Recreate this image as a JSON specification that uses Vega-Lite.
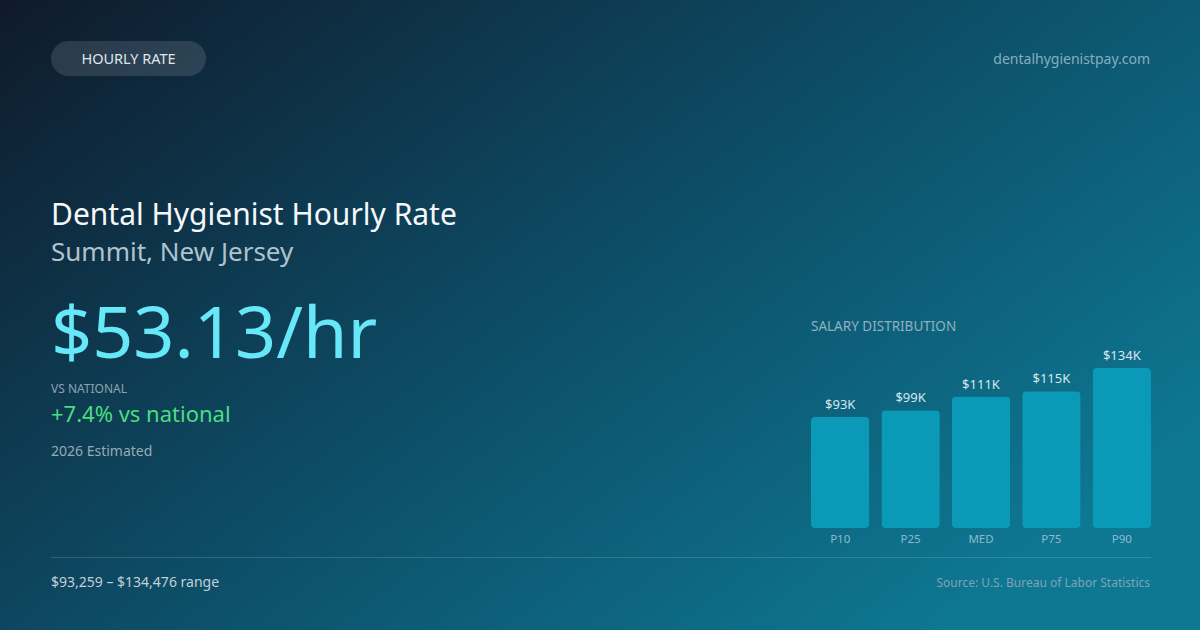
{
  "$schema": "https://vega.github.io/schema/vega-lite/v6.json",
  "width": 1200,
  "height": 630,
  "autosize": {"type": "fit", "contains": "padding"},
  "padding": 0,
  "background": "#0f1a2b",
  "config": {"view": {"stroke": null}, "font": "Noto Sans"},
  "datasets": {
    "dist": [
      {"pct": "P10", "wage": 93259, "label": "$93K"},
      {"pct": "P25", "wage": 99000, "label": "$99K"},
      {"pct": "MED", "wage": 110510, "label": "$111K"},
      {"pct": "P75", "wage": 115000, "label": "$115K"},
      {"pct": "P90", "wage": 134476, "label": "$134K"}
    ]
  },
  "layer": [
    {
      "data": {"values": [{}]},
      "mark": {
        "type": "rect",
        "fill": {
          "gradient": "linear", "x1": 0, "y1": 0, "x2": 1, "y2": 0.7,
          "stops": [
            {"offset": 0, "color": "#0f1a2b"},
            {"offset": 0.5, "color": "#0d4a63"},
            {"offset": 1, "color": "#0e7893"}
          ]
        }
      },
      "encoding": {
        "x": {"value": -2}, "x2": {"value": 1202},
        "y": {"value": -2}, "y2": {"value": 632}
      }
    },
    {
      "data": {"values": [{"text": "HOURLY RATE"}]},
      "layer": [
        {
          "mark": {"type": "rect", "cornerRadius": 17.5, "fill": "#ffffff", "fillOpacity": 0.12},
          "encoding": {"x": {"value": 49}, "x2": {"value": 204}, "y": {"value": 39}, "y2": {"value": 74}}
        },
        {
          "mark": {"type": "text", "align": "center", "baseline": "alphabetic", "fontSize": 14.5, "color": "#dde6ec"},
          "encoding": {"x": {"value": 126.5}, "y": {"value": 62}, "text": {"field": "text"}}
        }
      ]
    },
    {
      "data": {"values": [{"text": "dentalhygienistpay.com"}]},
      "mark": {"type": "text", "align": "right", "baseline": "alphabetic", "fontSize": 14, "color": "#86aec0"},
      "encoding": {"x": {"value": 1148}, "y": {"value": 62}, "text": {"field": "text"}}
    },
    {
      "data": {"values": [{"text": "Dental Hygienist Hourly Rate"}]},
      "mark": {"type": "text", "align": "left", "baseline": "alphabetic", "fontSize": 30, "color": "#f4f8fb"},
      "encoding": {"x": {"value": 49}, "y": {"value": 223}, "text": {"field": "text"}}
    },
    {
      "data": {"values": [{"text": "Summit, New Jersey"}]},
      "mark": {"type": "text", "align": "left", "baseline": "alphabetic", "fontSize": 26, "color": "#aec3cf"},
      "encoding": {"x": {"value": 49}, "y": {"value": 259}, "text": {"field": "text"}}
    },
    {
      "data": {"values": [{"text": "$53.13/hr"}]},
      "mark": {"type": "text", "align": "left", "baseline": "alphabetic", "fontSize": 72, "color": "#67e8f9"},
      "encoding": {"x": {"value": 49}, "y": {"value": 356}, "text": {"field": "text"}}
    },
    {
      "data": {"values": [{"text": "VS NATIONAL"}]},
      "mark": {"type": "text", "align": "left", "baseline": "alphabetic", "fontSize": 12, "color": "#8ea3b0"},
      "encoding": {"x": {"value": 49}, "y": {"value": 391}, "text": {"field": "text"}}
    },
    {
      "data": {"values": [{"text": "+7.4% vs national"}]},
      "mark": {"type": "text", "align": "left", "baseline": "alphabetic", "fontSize": 22, "color": "#4ade80"},
      "encoding": {"x": {"value": 49}, "y": {"value": 420}, "text": {"field": "text"}}
    },
    {
      "data": {"values": [{"text": "2026 Estimated"}]},
      "mark": {"type": "text", "align": "left", "baseline": "alphabetic", "fontSize": 14, "color": "#97aab6"},
      "encoding": {"x": {"value": 49}, "y": {"value": 454}, "text": {"field": "text"}}
    },
    {
      "data": {"values": [{"text": "SALARY DISTRIBUTION"}]},
      "mark": {"type": "text", "align": "left", "baseline": "alphabetic", "fontSize": 13.5, "color": "#8fb2c2"},
      "encoding": {"x": {"value": 809}, "y": {"value": 329}, "text": {"field": "text"}}
    },
    {
      "data": {"values": [{}]},
      "mark": {"type": "rule", "stroke": "#ffffff", "strokeOpacity": 0.15, "strokeWidth": 1},
      "encoding": {"x": {"value": 49}, "x2": {"value": 1149}, "y": {"value": 555.5}, "y2": {"value": 555.5}}
    },
    {
      "data": {"values": [{"text": "$93,259 – $134,476 range"}]},
      "mark": {"type": "text", "align": "left", "baseline": "alphabetic", "fontSize": 14, "color": "#c3d0d9"},
      "encoding": {"x": {"value": 49}, "y": {"value": 585}, "text": {"field": "text"}}
    },
    {
      "data": {"values": [{"text": "Source: U.S. Bureau of Labor Statistics"}]},
      "mark": {"type": "text", "align": "right", "baseline": "alphabetic", "fontSize": 12, "color": "#7fa3b4"},
      "encoding": {"x": {"value": 1148}, "y": {"value": 585}, "text": {"field": "text"}}
    },
    {
      "data": {"name": "dist"},
      "encoding": {
        "x": {
          "field": "pct", "type": "nominal", "sort": null, "axis": null,
          "scale": {"range": [809, 1149], "paddingInner": 0.17, "paddingOuter": 0}
        },
        "y": {
          "field": "wage", "type": "quantitative", "axis": null,
          "scale": {"domain": [0, 134476], "range": [526, 366], "nice": false, "zero": true}
        }
      },
      "layer": [
        {
          "mark": {"type": "bar", "cornerRadius": 4, "color": "#0a9ab8"}
        },
        {
          "mark": {"type": "text", "dy": -8, "baseline": "alphabetic", "fontSize": 13, "color": "#d8e6ee"},
          "encoding": {"text": {"field": "label"}}
        },
        {
          "mark": {"type": "text", "baseline": "middle", "fontSize": 11.5, "color": "#8dbacb"},
          "encoding": {
            "y": {"datum": 0},
            "yOffset": {"value": 12},
            "text": {"field": "pct"}
          }
        }
      ]
    }
  ]
}
